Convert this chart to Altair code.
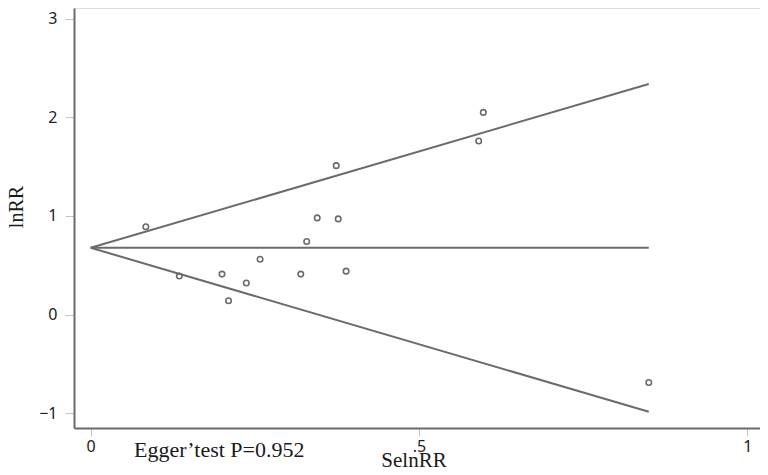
import altair as alt
import pandas as pd

# Study points (standard error of lnRR, lnRR)
se_vals = [0.084, 0.135, 0.200, 0.210, 0.237, 0.258, 0.320, 0.329, 0.345, 0.374, 0.377, 0.389, 0.591, 0.598, 0.850]
lnrr_vals = [0.89, 0.39, 0.41, 0.14, 0.32, 0.56, 0.41, 0.74, 0.98, 1.51, 0.97, 0.44, 1.76, 2.05, -0.69]

# Funnel lines (start / end points)
line_names = ["center", "center", "upper", "upper", "lower", "lower"]
line_se = [0.0, 0.850, 0.0, 0.850, 0.0, 0.850]
line_y = [0.677, 0.677, 0.677, 2.338, 0.677, -0.986]

x_ticks = [0, 0.5, 1]
y_ticks = [-1, 0, 1, 2, 3]

pts = pd.DataFrame({"se": se_vals, "lnrr": lnrr_vals})
lines = pd.DataFrame({"line": line_names, "se": line_se, "lnrr": line_y})

GRAY = "#6b6b6b"
SANS = "Noto Sans"
SERIF = "Liberation Serif"

xscale = alt.Scale(domain=[-0.0254, 1.0194], nice=False, zero=False)
yscale = alt.Scale(domain=[-1.151, 3.109], nice=False, zero=False)

xaxis = alt.Axis(
    values=x_ticks,
    labelExpr="datum.value == 0.5 ? '.5' : format(datum.value, 'd')",
    grid=False, domainColor=GRAY, domainWidth=2, tickColor="#c4c4c4", tickWidth=1,
    tickSize=8, labelFont=SANS, labelFontSize=16, labelColor="#222222", labelPadding=2,
    title="SelnRR", titleFont=SERIF, titleFontSize=21, titleFontWeight="normal",
    titleColor="#1a1a1a", titleX=339.5, titleY=38.5, titleBaseline="alphabetic",
    titleAlign="center",
)
yaxis = alt.Axis(
    values=y_ticks, format="d", grid=False, domainColor=GRAY, domainWidth=2,
    tickColor="#c4c4c4", tickWidth=1, tickSize=9, labelFont=SANS, labelFontSize=16,
    labelColor="#222222", labelPadding=8, title="lnRR", titleFont=SERIF,
    titleFontSize=20, titleFontWeight="normal", titleColor="#1a1a1a",
    titleX=-52, titleY=198.5, titleAngle=270, titleBaseline="alphabetic",
    titleAlign="center",
)

funnel = alt.Chart(lines).mark_line(color=GRAY, strokeWidth=2).encode(
    x=alt.X("se:Q", scale=xscale, axis=xaxis),
    y=alt.Y("lnrr:Q", scale=yscale, axis=yaxis),
    detail="line:N",
)

points = alt.Chart(pts).mark_point(
    shape="circle", filled=False, color=GRAY, size=30, strokeWidth=1.6, opacity=1
).encode(
    x=alt.X("se:Q", scale=xscale),
    y=alt.Y("lnrr:Q", scale=yscale),
)

note = alt.Chart(pd.DataFrame({"t": ["Egger\u2019test P=0.952"]})).mark_text(
    font=SERIF, fontSize=22, color="#1a1a1a", align="left", baseline="alphabetic"
).encode(
    text="t:N", x=alt.value(60), y=alt.value(448.7)
)

chart = alt.layer(funnel, points, note).properties(
    width=686, height=420,
    autosize=alt.AutoSizeParams(type="none"),
    padding={"left": 66, "top": 0, "right": 0, "bottom": 39},
).configure_view(stroke=None).configure(background="white")

chart.save("out.html", embed_options={"renderer": "svg", "actions": False})
